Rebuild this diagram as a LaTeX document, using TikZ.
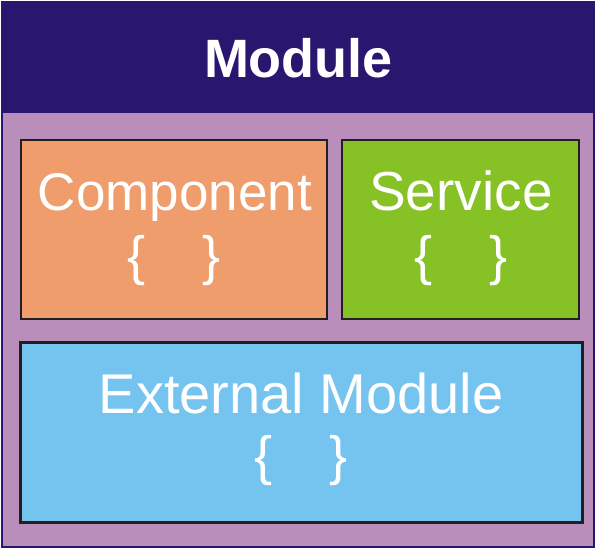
\documentclass[tikz,border=0pt]{standalone}
\usepackage{fontspec}
\setmainfont{Liberation Sans}
\definecolor{navy}{RGB}{41,22,111}
\definecolor{mauve}{RGB}{186,142,186}
\definecolor{orangebox}{RGB}{239,157,108}
\definecolor{greenbox}{RGB}{134,194,38}
\definecolor{bluebox}{RGB}{117,196,239}
\definecolor{edge}{RGB}{35,31,32}
\tikzset{
  box/.style={draw=edge, line width=2pt, inner sep=0pt},
  lbl/.style={text=white, font=\fontsize{#1}{60}\selectfont, anchor=base, inner sep=0pt},
  lbl/.default=53,
  brc/.style={text=white, font=\fontsize{54}{60}\selectfont, anchor=base, inner sep=0pt},
}
\begin{document}
\begin{tikzpicture}[x=1pt,y=-1pt]
\useasboundingbox (0,0) rectangle (596,549);
\node[fill=navy, inner sep=0pt, minimum width=594pt, minimum height=111pt] (header) at (298,56.5) {};
\node[fill=mauve, draw=navy, line width=2pt, inner sep=0pt, minimum width=592pt, minimum height=435pt] (body) at (298,329.5) {};
\node[text=white, font=\bfseries\fontsize{54}{60}\selectfont, anchor=base, inner sep=0pt] (title) at (298.5,77) {Module};
\node[box, fill=orangebox, minimum width=306pt, minimum height=179pt] (comp) at (174,229.5) {};
\node[box, fill=greenbox, minimum width=237pt, minimum height=179pt] (serv) at (460.5,229.5) {};
\node[box, line width=3pt, fill=bluebox, minimum width=562pt, minimum height=180pt] (ext) at (301,432) {};
\node[lbl=53] (comptext) at (175,210) {Component};
\node[brc] (compbr) at (174,274) {\{\hspace{56pt}\}};
\node[lbl=55] (servtext) at (461,210) {Service};
\node[brc] (servbr) at (461,274) {\{\hspace{56pt}\}};
\node[lbl=56] (exttext) at (301,413) {External Module};
\node[brc] (extbr) at (301,474) {\{\hspace{56pt}\}};
\end{tikzpicture}
\end{document}
